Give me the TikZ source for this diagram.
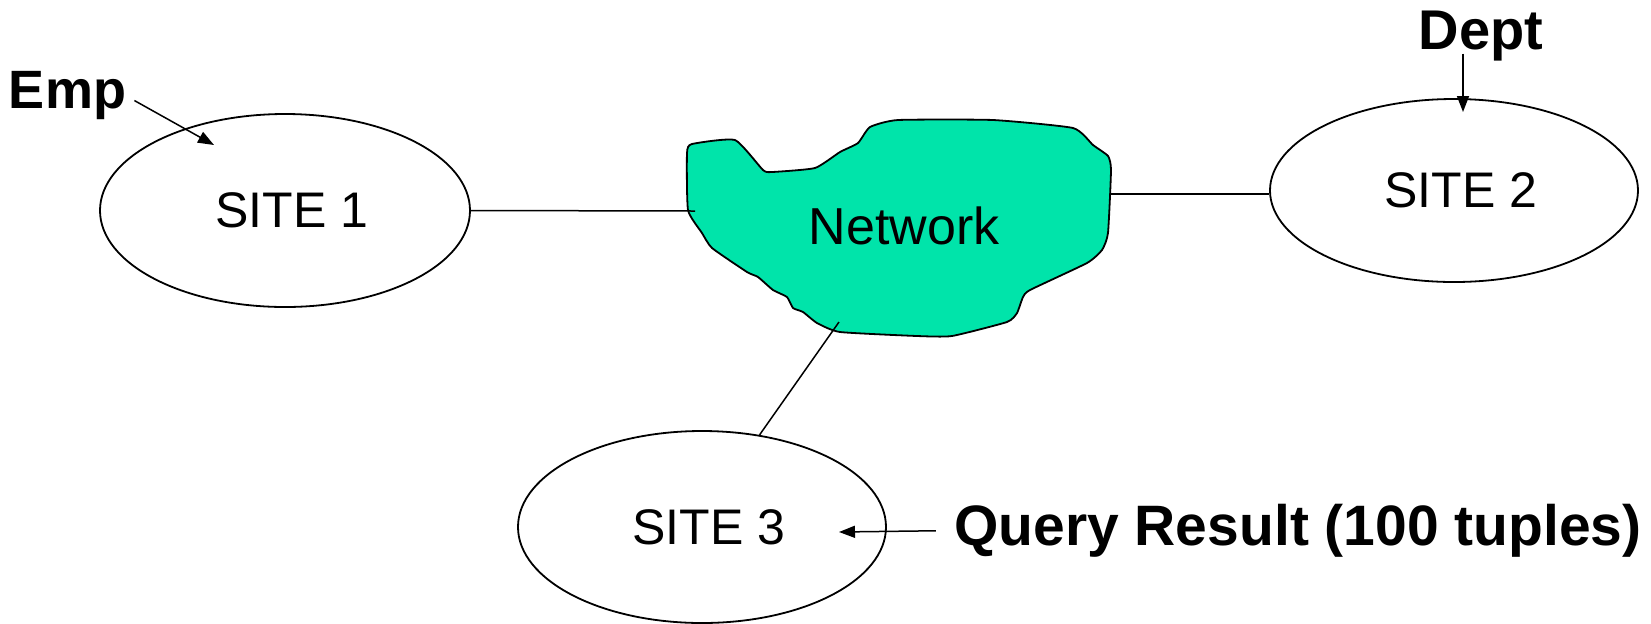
\documentclass[tikz,border=0pt]{standalone}
\usepackage{fontspec}
\setmainfont{Liberation Sans}
\usetikzlibrary{shapes.geometric,arrows.meta}
\definecolor{netgreen}{RGB}{0,228,170}
\begin{document}
\begin{tikzpicture}[x=0.5pt,y=-0.5pt,
  site/.style={ellipse, draw, line width=0.9pt, inner sep=0pt,
    font=\fontsize{25pt}{30pt}\selectfont},
  lab/.style={font=\bfseries\fontsize{27pt}{32pt}\selectfont, inner sep=0pt, anchor=base},
  conn/.style={line width=0.75pt},
  arr/.style={line width=0.75pt, -{Triangle[length=8pt,width=6pt]}}]
\useasboundingbox (0,0) rectangle (1651,623);
% network cloud
\filldraw[fill=netgreen, draw=black, line width=0.9pt]
  plot[smooth cycle, tension=0.3] coordinates {
  (692,144) (735,140) (763,170) (772,172) (815,168) (840,152) (858,143)
  (870,127) (898,120) (993,120) (1073,128) (1093,145) (1108,156)
  (1111,170) (1108,233) (1102,250) (1087,263) (1030,290) (1023,297)
  (1017,313) (1007,322) (952,336) (917,336) (840,332) (817,323)
  (803,312) (793,308) (787,297) (773,290) (758,277) (747,272)
  (712,248) (702,233) (688,210) (687,153)};
\node[font=\fontsize{26pt}{31pt}\selectfont, anchor=base, inner sep=0pt] (net) at (904,244) {Network};
% sites
\node[site, minimum width=185pt, minimum height=96.5pt] (s1) at (285,210.5) {\hspace*{7pt}SITE 1};
\node[site, minimum width=184pt, minimum height=91.5pt] (s2) at (1454,190.5) {\hspace*{7pt}SITE 2};
\node[site, minimum width=184pt, minimum height=96pt] (s3) at (702,527) {\hspace*{7pt}SITE 3};
% labels
\node[lab] (emp) at (67.5,108.5) {Emp};
\node[lab, font=\bfseries\fontsize{28pt}{33pt}\selectfont] (dept) at (1481,49.5) {Dept};
\node[lab, font=\bfseries\fontsize{28.5pt}{34pt}\selectfont] (query) at (1298,545.5) {Query Result (100 tuples)};
% connectors
\coordinate (n1) at (695,211);
\coordinate (n2) at (1110,194);
\coordinate (n3) at (839,322);
\draw[conn] (s1.east) -- (n1);
\draw[conn] (n2) -- (n2 -| s2.west);
\draw[conn] (n3) -- (s3.58.7);
% arrows
\coordinate (emptip) at (214,145);
\coordinate (depttip) at (1463,112);
\coordinate (querytip) at (839,532);
\draw[arr] ([shift={(8,5)}]emp.east) -- (emptip);
\draw[arr] ([shift={(-18,4)}]dept.base) -- (depttip);
\draw[arr] ([shift={(-18,0)}]query.west) -- (querytip);
\end{tikzpicture}
\end{document}
